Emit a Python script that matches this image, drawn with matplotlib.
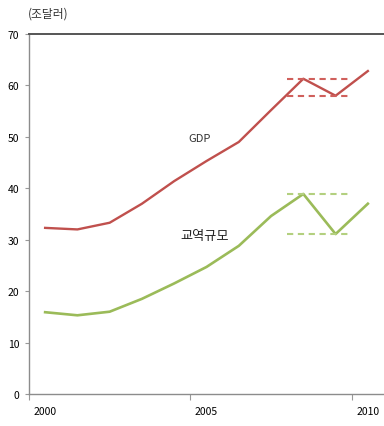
import numpy as np
import matplotlib.pyplot as plt

plt.rcParams['font.family'] = ['Noto Sans CJK KR', 'DejaVu Sans']

years = [2000, 2001, 2002, 2003, 2004, 2005, 2006, 2007, 2008, 2009, 2010]
gdp = [32.3, 32.0, 33.3, 37.0, 41.4, 45.3, 49.0, 55.2, 61.3, 58.0, 62.8]
trade = [15.9, 15.3, 16.0, 18.5, 21.5, 24.7, 28.8, 34.6, 38.9, 31.1, 37.0]
tick_years = [2000, 2005, 2010]

red = '#C0504D'
green = '#9BBB59'

fig = plt.figure(figsize=(3.84, 4.27), dpi=100)
ax = fig.add_axes([0.0755, 0.075, 0.9245, 0.843])

# categories are centred between year boundaries
x = np.array(years) + 0.5
ax.plot(x, gdp, color=red, lw=1.7)
ax.plot(x, trade, color=green, lw=1.9)

# peak / trough bands around 2008-2009
i8, i9 = years.index(2008), years.index(2009)
for series, c in [(gdp, '#D0605C'), (trade, '#B3D07F')]:
    for v in (series[i8], series[i9]):
        ax.hlines(v, 2008, 2010, colors=c, linestyles=(0, (3, 2.2)), lw=1.5)

ax.text(2005.3, 49.8, 'GDP', fontsize=8, ha='center', va='center',
        color='#333333')
ax.text(2005.45, 30.8, '교역규모', fontsize=9.5, ha='center', va='center',
        color='#222222')

ax.set_xlim(2000, 2011)
ax.set_ylim(0, 70)
ax.set_yticks(range(0, 71, 10))
ax.set_xticks(tick_years)
ax.set_xticklabels([])
ax.set_xticks([t + 0.5 for t in tick_years], [str(t) for t in tick_years],
              minor=True)
ax.tick_params(axis='x', which='major', length=4, color='#999999')
ax.tick_params(axis='x', which='minor', length=0, pad=9, labelsize=7.5)
ax.tick_params(axis='y', length=3, color='#999999', labelsize=7.5, pad=4)

for s in ['left', 'bottom']:
    ax.spines[s].set_color('#8c8c8c')
    ax.spines[s].set_linewidth(1.0)
ax.spines['right'].set_visible(False)
ax.spines['top'].set_color('#555555')
ax.spines['top'].set_linewidth(1.4)

fig.text(0.072, 0.967, '(조달러)', fontsize=8.5, ha='left', va='center',
         color='#333333')

fig.savefig('out.png', dpi=100)
